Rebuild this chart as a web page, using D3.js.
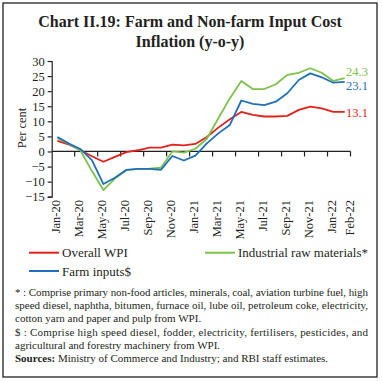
<!DOCTYPE html>
<html><head><meta charset="utf-8">
<script src="https://cdn.jsdelivr.net/npm/d3@7"></script>
<style>
body{margin:0;background:#fff;}
svg{display:block;}
text{font-family:"Liberation Serif","DejaVu Serif",serif;fill:#231f20;}
</style></head>
<body>
<svg id="chart" width="382" height="382"></svg>
<script>
const months = ["Jan-20","Feb-20","Mar-20","Apr-20","May-20","Jun-20","Jul-20","Aug-20","Sep-20","Oct-20","Nov-20","Dec-20",
"Jan-21","Feb-21","Mar-21","Apr-21","May-21","Jun-21","Jul-21","Aug-21","Sep-21","Oct-21","Nov-21","Dec-21","Jan-22","Feb-22"];
const overallWPI = [3.5,2.3,0.4,-1.6,-3.4,-1.8,-0.2,0.4,1.3,1.3,2.3,2.0,2.5,4.8,7.9,10.7,13.1,12.1,11.6,11.6,11.8,13.8,14.9,14.3,13.1,13.1];
const industrialRaw = [4.4,2.5,0.3,-6.5,-12.8,-9.0,-6.2,-5.8,-5.7,-5.4,0.0,-0.4,0.9,4.2,11.0,17.6,23.4,20.7,20.7,22.3,25.4,26.1,27.6,26.1,23.4,24.3];
const farmInputs = [4.8,2.6,0.8,-2.9,-10.8,-8.7,-6.1,-5.8,-5.8,-6.1,-1.5,-3.0,-1.4,2.7,6.0,8.8,16.9,15.8,15.4,16.5,19.3,23.7,25.9,24.6,22.8,23.1];
const yTicks = [-15,-10,-5,0,5,10,15,20,25,30];
const xLabels = ["Jan-20","Mar-20","May-20","Jul-20","Sep-20","Nov-20","Jan-21","Mar-21","May-21","Jul-21","Sep-21","Nov-21","Jan-22","Feb-22"];
const seriesNames = ["Overall WPI","Industrial raw materials*","Farm inputs$"];
const seriesColors = ["#e3211c","#7cc24a","#1f6fba"];
const endLabels = ["13.1","24.3","23.1"];

const svg = d3.select("#chart");
// frame
svg.append("rect").attr("x",3).attr("y",3).attr("width",374).attr("height",374)
  .attr("fill","none").attr("stroke","#231f20").attr("stroke-width",1.3);

// title
const title = svg.append("g").attr("font-weight","bold").attr("font-size",16).attr("text-anchor","middle");
title.append("text").attr("x",190).attr("y",27).text("Chart II.19: Farm and Non-farm Input Cost");
title.append("text").attr("x",190).attr("y",47).text("Inflation (y-o-y)");

const x0 = 51.7, x1 = 350.5;
const x = d3.scaleBand().domain(months).range([x0,x1]).paddingInner(0).paddingOuter(0);
const y = d3.scaleLinear().domain([-15,30]).range([196.7,61]);
const cx = m => x(m) + x.bandwidth()/2;

// y axis
const yAxis = d3.axisLeft(y).tickValues(yTicks).tickSize(4).tickPadding(3).tickFormat(d3.format("d"));
const gy = svg.append("g").attr("transform",`translate(${x0},0)`).call(yAxis);
gy.select(".domain").attr("stroke","#231f20").attr("stroke-width",1.2);
gy.selectAll(".tick line").attr("stroke","#231f20").attr("stroke-width",1.2);
gy.selectAll(".tick text").attr("font-size",12.5).attr("fill","#231f20")
  .attr("font-family","'Liberation Serif',serif");

// x axis at zero
const gx = svg.append("g");
gx.append("line").attr("x1",x0).attr("x2",x1).attr("y1",y(0)).attr("y2",y(0))
  .attr("stroke","#231f20").attr("stroke-width",1.2);
const tickMonths = months.filter((m,i)=>i%2===0).slice(1);
gx.selectAll("line.tk").data(tickMonths).enter().append("line").attr("class","tk")
  .attr("x1",d=>x(d)).attr("x2",d=>x(d)).attr("y1",y(0)).attr("y2",y(0)+5)
  .attr("stroke","#231f20").attr("stroke-width",1.2);
gx.append("line").attr("x1",x1).attr("x2",x1).attr("y1",y(0)).attr("y2",y(0)+5)
  .attr("stroke","#231f20").attr("stroke-width",1.2);

// x labels
svg.append("g").selectAll("text").data(xLabels).enter().append("text")
  .attr("transform",(d,i)=>{const xx = d==="Feb-22" ? x1 - 1 : cx(d) - 2; return `translate(${xx},200) rotate(-90)`;})
  .attr("text-anchor","end").attr("dy","0.35em").attr("font-size",12.5).text(d=>d);

// y label
svg.append("text").attr("transform","translate(22,128) rotate(-90)").attr("text-anchor","middle")
  .attr("dy","0.35em").attr("font-size",12.5).text("Per cent");

// lines
const data = [overallWPI, industrialRaw, farmInputs];
const line = d3.line().x((d,i)=>cx(months[i])).y(d=>y(d));
[0,1,2].forEach(k=>{
  svg.append("path").datum(data[k]).attr("d",line).attr("fill","none")
    .attr("stroke",seriesColors[k]).attr("stroke-width",1.8).attr("stroke-linejoin","round");
});

// end labels
const endY = [112.3, 72, 86];
endLabels.forEach((t,k)=>{
  svg.append("text").attr("x",346).attr("y",endY[k]).attr("dy","0.35em")
    .attr("font-size",12.5).style("fill",seriesColors[k]).text(t);
});

// legend
const leg = [{k:0,x:29,y:252.7},{k:1,x:205,y:252.7},{k:2,x:29,y:271}];
leg.forEach(l=>{
  svg.append("line").attr("x1",l.x).attr("x2",l.x+30).attr("y1",l.y).attr("y2",l.y)
    .attr("stroke",seriesColors[l.k]).attr("stroke-width",2);
  svg.append("text").attr("x",l.x+33).attr("y",l.y).attr("dy","0.35em").attr("font-size",13).text(seriesNames[l.k]);
});

// footnotes
const notes = [
  {t:"* : Comprise primary non-food articles, minerals, coal, aviation turbine fuel, high", y:291.7, j:true},
  {t:"speed diesel, naphtha, bitumen, furnace oil, lube oil, petroleum coke, electricity,", y:305, j:true},
  {t:"cotton yarn and paper and pulp from WPI.", y:318.5, j:false},
  {t:"$ : Comprise high speed diesel, fodder, electricity, fertilisers, pesticides, and", y:332, j:true},
  {t:"agricultural and forestry machinery from WPI.", y:345.3, j:false}
];
notes.forEach(n=>{
  const t = svg.append("text").attr("x",15).attr("y",n.y).attr("dy","0.35em").attr("font-size",11).text(n.t);
  if(n.j) t.attr("textLength",353).attr("lengthAdjust","spacing");
});
const src = svg.append("text").attr("x",15).attr("y",358.5).attr("dy","0.35em").attr("font-size",11);
src.append("tspan").attr("font-weight","bold").text("Sources:");
src.append("tspan").text(" Ministry of Commerce and Industry; and RBI staff estimates.");
</script>
</body></html>
